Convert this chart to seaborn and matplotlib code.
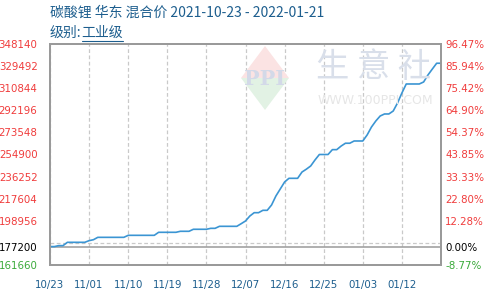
import numpy as np
import pandas as pd
import matplotlib
matplotlib.use("Agg")
import matplotlib.pyplot as plt
import seaborn as sns
from matplotlib.patches import Polygon

# ---------------- data ----------------
title_text = "碳酸锂 华东 混合价 2021-10-23 - 2022-01-21"
subtitle_label = "级别:"
subtitle_value = "工业级"

start_date = "2021-10-23"
prices = [
    177200, 177200, 178000, 178000, 180800, 180800, 180800, 180800, 180800, 182200,
    183000, 185000, 185000, 185000, 185000, 185000, 185000, 185000, 186700, 186700,
    186700, 186700, 186700, 186700, 186700, 189250, 189250, 189250, 189250, 189250,
    190100, 190100, 190100, 191800, 191800, 191800, 191800, 192600, 192600, 194300,
    194300, 194300, 194300, 194300, 196500, 198800, 203000, 205800, 205800, 207800,
    207800, 212300, 219900, 225800, 231700, 234800, 234800, 234800, 240100, 242500,
    245200, 250300, 254900, 254900, 254900, 259000, 259000, 262000, 264400, 264400,
    266300, 266300, 266300, 271400, 278100, 283200, 287400, 289100, 289100, 291600,
    298400, 306800, 314400, 314400, 314400, 314400, 316100, 322000, 327000, 331900,
    331900,
]
base_price = 177200
y_min, y_max = 161660, 348140
y_step = 18648
x_tick_labels = ["10/23", "11/01", "11/10", "11/19", "11/28",
                 "12/07", "12/16", "12/25", "01/03", "01/12"]
x_tick_step = 9

# ---------------- styling ----------------
sns.set_theme(style="white")
plt.rcParams["font.family"] = ["DejaVu Sans"]
cjk = ["Noto Sans CJK SC", "DejaVu Sans"]

RED = "#f03c3c"
GREEN = "#3aaa3a"
BLUE_TXT = "#1d5e8e"
LINE = "#3b95d3"
GRID = "#c9c9c9"
SPINE = "#9a9a9a"

dates = pd.date_range(start_date, periods=len(prices), freq="D")
df = pd.DataFrame({"day": np.arange(len(prices)), "price": prices, "date": dates})

W, H = 493, 292
fig = plt.figure(figsize=(W / 100, H / 100), dpi=100)
L, R, T, B = 50, 441, 44, 265
ax = fig.add_axes([L / W, 1 - B / H, (R - L) / W, (B - T) / H])

# watermark (behind everything)
fig.patches.append(Polygon([[265 / W, 1 - 46 / H], [289 / W, 1 - 78 / H], [241 / W, 1 - 78 / H]],
                           closed=True, transform=fig.transFigure, facecolor="#fbe3e3",
                           edgecolor="none", zorder=0.5))
fig.patches.append(Polygon([[241 / W, 1 - 78 / H], [289 / W, 1 - 78 / H], [265 / W, 1 - 110 / H]],
                           closed=True, transform=fig.transFigure, facecolor="#e2f2e4",
                           edgecolor="none", zorder=0.5))
ax.set_facecolor("none")
fig.text(265 / W, 1 - 79 / H, "PPI", ha="center", va="center", fontsize=15, fontweight="bold",
         family=["DejaVu Serif"], color="#d3d9e8", zorder=0.6)
fig.text(374 / W, 1 - 68 / H, "生 意 社", ha="center", va="center", fontsize=24,
         family=cjk, color="#d9dfea", zorder=0.6)
fig.text(375 / W, 1 - 101 / H, "WWW.100PPI.COM", ha="center", va="center", fontsize=9,
         color="#e6e6e6", zorder=0.6)

sns.lineplot(data=df, x="day", y="price", ax=ax, color=LINE, linewidth=1.2, zorder=3)

ax.set_xlim(0, len(prices) - 1)
ax.set_ylim(y_min, y_max)
ax.set_xlabel("")
ax.set_ylabel("")

# y ticks
label_ticks = [y_min, base_price] + list(np.arange(y_min + 2 * y_step, y_max + 1, y_step))
label_ticks = sorted(set(int(v) for v in label_ticks))
grid_ticks = list(np.arange(y_min + y_step, y_max, y_step))
ax.set_yticks(label_ticks)
ax.set_yticks(grid_ticks, minor=True)
ax.set_yticklabels([str(v) for v in label_ticks])
ax.grid(False)
ax.yaxis.grid(True, which="minor", linestyle=(0, (3, 2)), color=GRID, linewidth=0.9)
ax.axhline(base_price, color=SPINE, linewidth=1.1, zorder=2)

# x ticks
xt = np.arange(0, len(prices), x_tick_step)[:len(x_tick_labels)]
ax.set_xticks(xt)
ax.set_xticklabels(x_tick_labels)
ax.xaxis.grid(True, which="major", linestyle=(0, (3, 2)), color=GRID, linewidth=0.9)

ax.tick_params(axis="both", which="both", length=0)
ax.tick_params(axis="y", pad=9, labelsize=7.4)
ax.tick_params(axis="x", pad=11, labelsize=7.4, colors=BLUE_TXT)

def col(v):
    if v > base_price:
        return RED
    if v < base_price:
        return GREEN
    return "black"

for lab, v in zip(ax.get_yticklabels(), label_ticks):
    lab.set_color(col(v))

# right axis (percent change)
ax2 = ax.twinx()
ax2.set_ylim(y_min, y_max)
ax2.set_yticks(label_ticks)
ax2.set_yticklabels([f"{(v - base_price) / base_price * 100:.2f}%" for v in label_ticks])
ax2.tick_params(axis="y", length=0, pad=3, labelsize=7.4)
ax2.grid(False)
for lab, v in zip(ax2.get_yticklabels(), label_ticks):
    lab.set_color(col(v))

for a in (ax, ax2):
    for s in a.spines.values():
        s.set_color(SPINE)
        s.set_linewidth(1.3)
        s.set_visible(True)

# titles
fig.text(50 / W, 1 - 13 / H, title_text, ha="left", va="center", fontsize=10,
         family=cjk, color=BLUE_TXT)
t1 = fig.text(50 / W, 1 - 33 / H, subtitle_label, ha="left", va="center", fontsize=10,
              family=cjk, color=BLUE_TXT)
fig.canvas.draw()
renderer = fig.canvas.get_renderer()
bb1 = t1.get_window_extent(renderer)
x2 = bb1.x1 / (W)
t2 = fig.text(x2, 1 - 33 / H, subtitle_value, ha="left", va="center", fontsize=10,
              family=cjk, color=BLUE_TXT)
bb2 = t2.get_window_extent(renderer)
fig.add_artist(plt.Line2D([bb2.x0 / W, bb2.x1 / W], [1 - 41 / H, 1 - 41 / H], color=BLUE_TXT,
                          linewidth=0.8, transform=fig.transFigure))

fig.savefig("out.png", dpi=100)
